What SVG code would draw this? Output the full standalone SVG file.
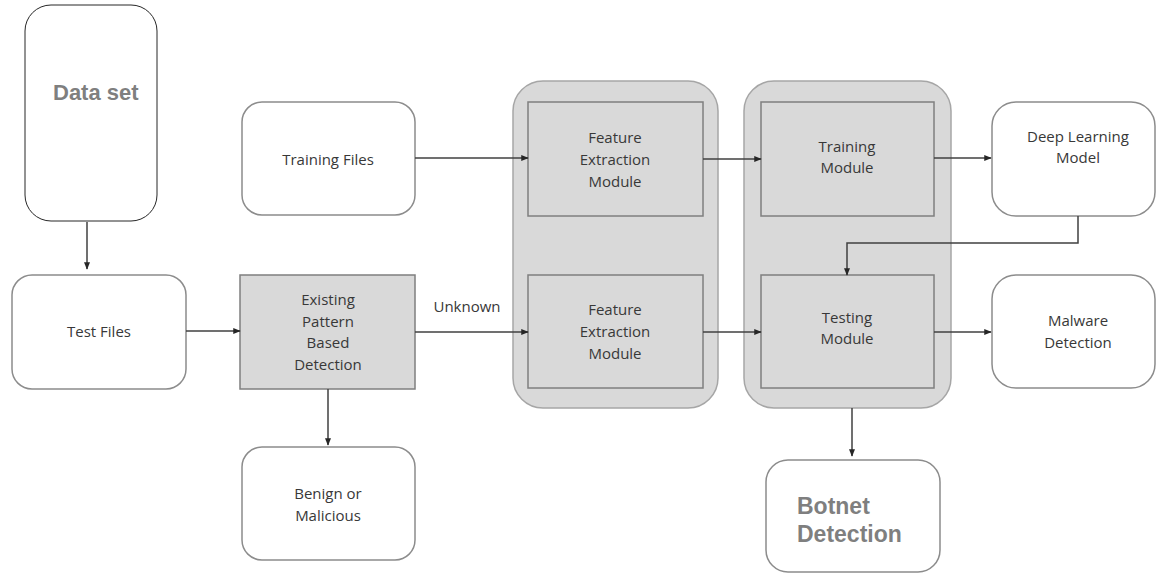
<svg xmlns="http://www.w3.org/2000/svg" width="1158" height="573" viewBox="0 0 1158 573">
<defs>
<marker id="ah" viewBox="0 0 10 10" refX="9" refY="5" markerWidth="5" markerHeight="5" orient="auto"><path d="M0,1 L10,5 L0,9 z" fill="#262626"/></marker>
<style>
.w{fill:#ffffff;stroke:#8c8c8c;stroke-width:1.5}
.g{fill:#d9d9d9;stroke:#7f7f7f;stroke-width:1.5}
.o{fill:#d9d9d9;stroke:#a6a6a6;stroke-width:1.5}
.t{font-family:"Open Sans","Liberation Sans",sans-serif;font-size:15px;fill:#383838;text-anchor:middle}
.b{font-family:"Liberation Sans",Arial,sans-serif;font-weight:bold;fill:#7f7f7f}
.c{fill:none;stroke:#404040;stroke-width:1.5;marker-end:url(#ah)}
</style>
</defs>
<g id="dataset"><rect x="25" y="5" width="132" height="216" rx="26" fill="#ffffff" stroke="#262626" stroke-width="1"/><text class="b" x="53" y="100" font-size="22">Data set</text></g>
<g id="testfiles"><rect class="w" x="12" y="275" width="174" height="114" rx="20"/><text class="t" x="99" y="337">Test Files</text></g>
<g id="existing"><rect class="g" x="240" y="275" width="175" height="114"/>
<text class="t" x="328" y="305">Existing</text><text class="t" x="328" y="327">Pattern</text><text class="t" x="328" y="348">Based</text><text class="t" x="328" y="370">Detection</text></g>
<g id="benign"><rect class="w" x="242" y="447" width="173" height="113" rx="20"/><text class="t" x="328" y="499">Benign or</text><text class="t" x="328" y="521">Malicious</text></g>
<g id="trainingfiles"><rect class="w" x="242" y="102" width="173" height="113" rx="20"/><text class="t" x="328" y="165">Training Files</text></g>
<g id="fegroup"><rect class="o" x="513" y="81" width="205" height="327" rx="30"/></g>
<g id="fe1"><rect class="g" x="528" y="102" width="175" height="114"/><text class="t" x="615" y="143">Feature</text><text class="t" x="615" y="165">Extraction</text><text class="t" x="615" y="187">Module</text></g>
<g id="fe2"><rect class="g" x="528" y="275" width="175" height="113"/><text class="t" x="615" y="315">Feature</text><text class="t" x="615" y="337">Extraction</text><text class="t" x="615" y="359">Module</text></g>
<g id="tmgroup"><rect class="o" x="744" y="81" width="207" height="327" rx="30"/></g>
<g id="training"><rect class="g" x="761" y="102" width="173" height="114"/><text class="t" x="847" y="152">Training</text><text class="t" x="847" y="173">Module</text></g>
<g id="testing"><rect class="g" x="761" y="275" width="173" height="113"/><text class="t" x="847" y="323">Testing</text><text class="t" x="847" y="344">Module</text></g>
<g id="dlm"><rect class="w" x="992" y="102" width="163" height="114" rx="24"/><text class="t" x="1078" y="142">Deep Learning</text><text class="t" x="1078" y="163">Model</text></g>
<g id="malware"><rect class="w" x="992" y="275" width="163" height="113" rx="24"/><text class="t" x="1078" y="326">Malware</text><text class="t" x="1078" y="348">Detection</text></g>
<g id="botnet"><rect class="w" x="766" y="460" width="174" height="112" rx="22"/><text class="b" x="797" y="514" font-size="23">Botnet</text><text class="b" x="797" y="542" font-size="23">Detection</text></g>
<g id="connectors">
<path class="c" d="M87,222 V269"/>
<path class="c" d="M186,331 H240"/>
<path class="c" d="M415,332 H528"/>
<text class="t" x="467" y="312">Unknown</text>
<path class="c" d="M328,389 V445"/>
<path class="c" d="M415,158 H528"/>
<path class="c" d="M703,159 H761"/>
<path class="c" d="M703,332 H761"/>
<path class="c" d="M934,158 H991"/>
<path class="c" d="M934,332 H991"/>
<path class="c" d="M1078,216 V243 H847 V275"/>
<path class="c" d="M852,408 V456"/>
</g>
</svg>
